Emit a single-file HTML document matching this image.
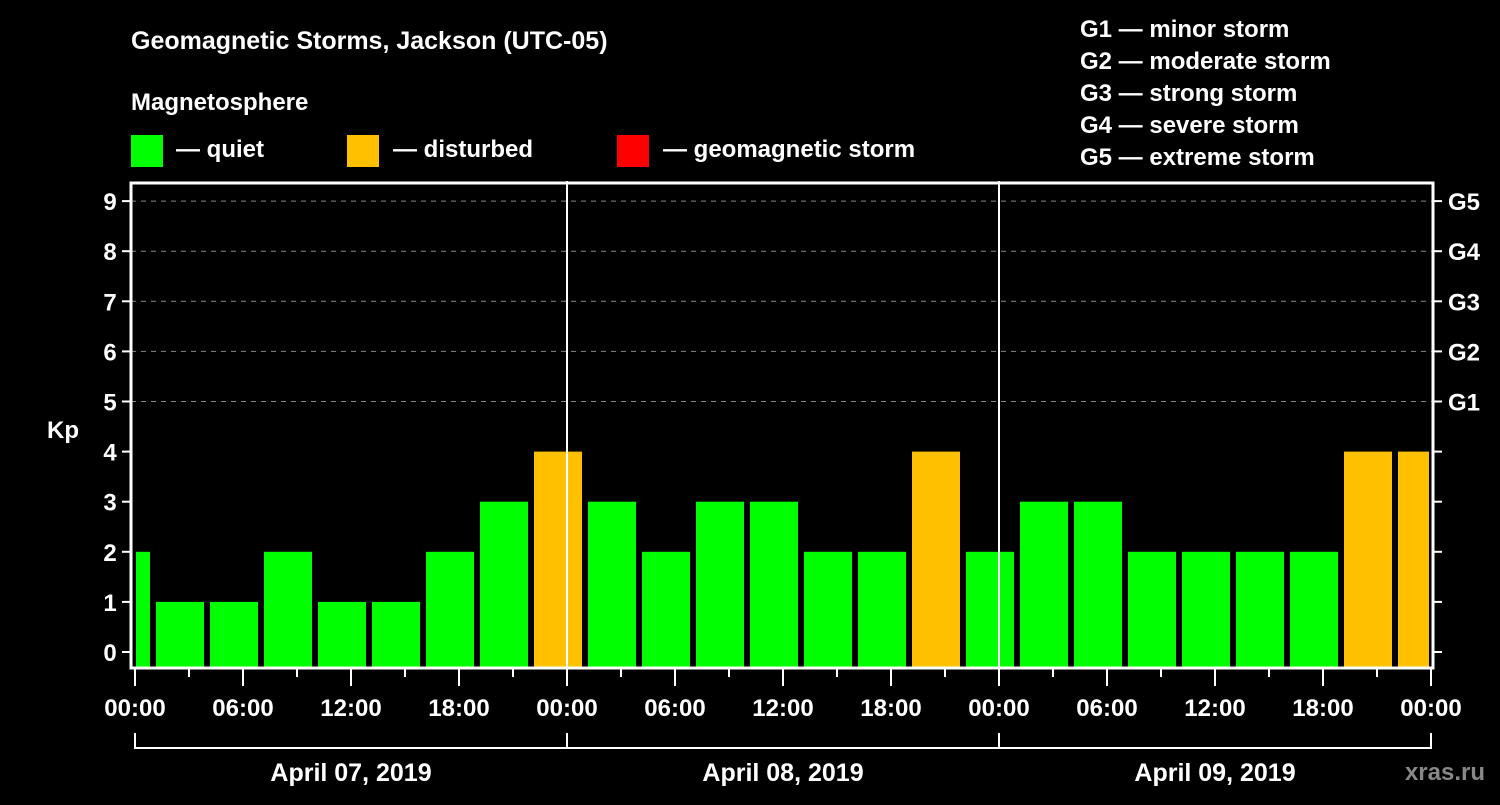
<!DOCTYPE html>
<html><head><meta charset="utf-8"><style>
html,body{margin:0;padding:0;background:#000;}
svg text{font-family:"Liberation Sans",Arial,sans-serif;font-weight:bold;fill:#fff;}
</style></head><body>
<svg id="chart" width="1500" height="800" viewBox="0 0 1500 800" xmlns="http://www.w3.org/2000/svg">
<rect width="1500" height="800" fill="#000"/>
<text x="131" y="49" font-size="25">Geomagnetic Storms, Jackson (UTC-05)</text>
<text x="131" y="110" font-size="24">Magnetosphere</text>
<g>
<rect x="131" y="135" width="32" height="32" fill="#00ff00"/>
<text x="176" y="157" font-size="24">— quiet</text>
<rect x="347" y="135" width="32" height="32" fill="#ffc000"/>
<text x="393" y="157" font-size="24">— disturbed</text>
<rect x="617" y="135" width="32" height="32" fill="#ff0000"/>
<text x="663" y="157" font-size="24">— geomagnetic storm</text>
</g>
<g font-size="24">
<text x="1080" y="37">G1 — minor storm</text>
<text x="1080" y="69">G2 — moderate storm</text>
<text x="1080" y="101">G3 — strong storm</text>
<text x="1080" y="133">G4 — severe storm</text>
<text x="1080" y="165">G5 — extreme storm</text>
</g>
<text x="63" y="438" font-size="24" text-anchor="middle">Kp</text>
<text x="1485" y="780" font-size="24" text-anchor="end" style="fill:#888">xras.ru</text>
<g id="grid"></g>
<g id="bars"></g>
<g id="axes"></g>
</svg>
<script>
const kpValues = [2, 1,1,2,1,1,2,3,4, 3,2,3,3,2,2,4,2, 3,3,2,2,2,2,4,4];
const barStartHours = [-2, 1,4,7,10,13,16,19,22, 25,28,31,34,37,40,43,46, 49,52,55,58,61,64,67,70];
const yTicks = [0,1,2,3,4,5,6,7,8,9];
const gLabels = ["G1","G2","G3","G4","G5"];
const gLevels = [5,6,7,8,9];
const dayLabels = ["April 07, 2019","April 08, 2019","April 09, 2019"];
const hourLabels = ["00:00","06:00","12:00","18:00"];

const NS="http://www.w3.org/2000/svg";
const X0=135, PXH=18, TOTAL_H=72, Y0=652, PXK=50.1, FT=183, FB=668, FL=131, FR=1433;
const xs=h=>X0+h*PXH;
const ys=k=>Y0-k*PXK;
function mk(tag,attrs,parent,txt){const e=document.createElementNS(NS,tag);for(const k in attrs)e.setAttribute(k,attrs[k]);if(txt!==undefined)e.textContent=txt;parent.appendChild(e);return e;}
const grid=document.getElementById('grid'),bars=document.getElementById('bars'),axes=document.getElementById('axes');

yTicks.forEach(k=>{
  if(k>=5){const l=mk('line',{x1:FL,x2:FR,y1:ys(k),y2:ys(k),stroke:'#888','stroke-width':1,'stroke-dasharray':'5,5'},grid);
  
  }
});
const col=k=>k>=5?'#ff0000':(k>=4?'#ffc000':'#00ff00');
kpValues.forEach((v,i)=>{
  let x1=xs(barStartHours[i])+3, x2=xs(barStartHours[i]+3)-3;
  x1=Math.max(x1,X0+1); x2=Math.min(x2,xs(TOTAL_H)-2);
  const r=mk('rect',{x:x1,y:ys(v),width:x2-x1,height:FB-ys(v),fill:col(v)},bars);
  
  
});
// frame
const fr=mk('path',{d:`M${FL},${FT} H${FR} V${FB} H${FL} Z`,fill:'none',stroke:'#fff','stroke-width':3},axes);


[24,48].forEach(h=>{const l=mk('line',{x1:xs(h),x2:xs(h),y1:181,y2:FB,stroke:'#fff','stroke-width':2},axes);

});
yTicks.forEach(k=>{
  const t=mk('line',{x1:122,x2:FL,y1:ys(k),y2:ys(k),stroke:'#fff','stroke-width':2},axes);
  
  
  const lb=mk('text',{x:110,y:ys(k)+9,'font-size':24,'text-anchor':'middle'},axes,String(k));
  
  
  const rt=mk('line',{x1:FR,x2:1442,y1:ys(k),y2:ys(k),stroke:'#fff','stroke-width':2},axes);
  
  
});
gLevels.forEach((k,i)=>{
  const lb=mk('text',{x:1448,y:ys(k)+9,'font-size':24},axes,gLabels[i]);
  
  
});
for(let h=0;h<=TOTAL_H;h+=3){
  const major=h%6===0;
  const t=mk('line',{x1:xs(h),x2:xs(h),y1:FB,y2:major?686:677,stroke:'#fff','stroke-width':2},axes);
  
  
  if(major){
    const lb=mk('text',{x:xs(h),y:716,'font-size':24,'text-anchor':'middle'},axes,hourLabels[(h%24)/6]);
    
    
  }
}
const br=mk('path',{d:`M${xs(0)},733 V748 H${xs(72)} V733 M${xs(24)},733 V748 M${xs(48)},733 V748`,fill:'none',stroke:'#fff','stroke-width':2},axes);


dayLabels.forEach((d,i)=>{
  const lb=mk('text',{x:xs(i*24+12),y:781,'font-size':25,'text-anchor':'middle'},axes,d);
  
  
});
</script>
</body></html>
